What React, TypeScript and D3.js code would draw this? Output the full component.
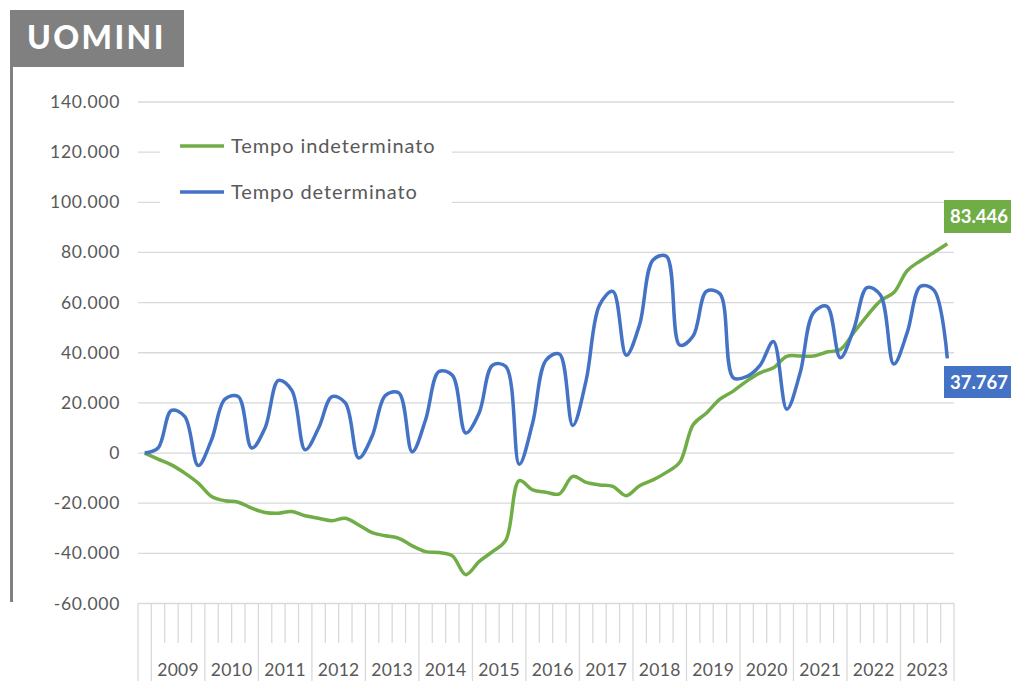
import * as d3 from "d3";

// quarterly change vs 2008 Q4, men
const years = [
  "2009", "2010", "2011", "2012", "2013", "2014", "2015", "2016",
  "2017", "2018", "2019", "2020", "2021", "2022", "2023",
];

// 2008Q4 + 15 years x 4 quarters (thousands)
const indeterminato = [
  0,
  -2.4, -4.7, -8, -12,
  -17.3, -19, -19.6, -22,
  -23.7, -24, -23.3, -25,
  -26, -27, -26, -28.7,
  -31.7, -33, -34, -37,
  -39.3, -39.7, -41, -48.5,
  -43.3, -39.3, -34.7, -11,
  -14.7, -15.6, -16.3, -9.3,
  -11.7, -12.7, -13.3, -17,
  -13, -10.7, -7.7, -3.7,
  11.3, 16, 21.5, 24.7,
  28.7, 32, 34, 38.6,
  38.7, 38.7, 40.3, 41.3,
  48, 54.7, 60.7, 64,
  72.7, 76.7, 80, 83.446,
].map((v) => v * 1000);

const determinato = [
  0,
  2, 17, 14.5, -5,
  5.3, 21.5, 22.5, 2,
  10, 29, 25, 1.3,
  10, 22.5, 20, -2,
  6.7, 23, 24, 0.5,
  13.3, 32.5, 31, 8,
  16, 35, 34.5, -4.5,
  12, 37, 39.5, 11,
  29, 59, 64.5, 39,
  51.3, 77, 78.5, 43,
  46.7, 64.5, 63.5, 30,
  30.5, 35, 44.5, 17.5,
  32, 56, 58.5, 38,
  49.3, 66, 63, 35.5,
  48, 66.5, 65, 37.767,
].map((v) => v * 1000);

const yTicks = [-60000, -40000, -20000, 0, 20000, 40000, 60000, 80000, 100000, 120000, 140000];

const GREEN = "#70ad47";
const BLUE = "#4472c4";
const GRID = "#d9d9d9";
const TXT = "#595959";
const FONT = "Lato, 'Open Sans', sans-serif";

const W = 1011;
const H = 681;

const x = d3
  .scaleBand<number>()
  .domain(d3.range(indeterminato.length))
  .range([138, 954])
  .padding(0);
const y = d3.scaleLinear().domain([-60000, 140000]).range([603.5, 102]);

// Italian style: thousands separated with a dot
const itFmt = (v: number) => {
  if (v === 0) return "0";
  return d3.format(",")(v).replace(/,/g, ".").replace("−", "-");
};

const line = d3
  .line<number>()
  .x((_, i) => (x(i) as number) + x.bandwidth() / 2)
  .y((d) => y(d))
  .curve(d3.curveCatmullRom.alpha(0.5));

export default function App() {
  const bw = x.bandwidth();
  const n = indeterminato.length;
  return (
    <svg width={W} height={H} style={{ position: "absolute", left: 0, top: 0 }}>
      <rect width={W} height={H} fill="#fff" />
      {/* title block */}
      <rect x={10} y={10} width={174} height={57} fill="#808080" />
      <text x={27} y={49} fill="#fff" fontFamily={FONT} fontWeight={900} fontSize={32} letterSpacing={2.4}>
        UOMINI
      </text>
      <rect x={10} y={67} width={3} height={535} fill="#808080" />

      {/* gridlines */}
      {yTicks.slice(1).map((t) => (
        <line key={t} x1={138} x2={954} y1={y(t)} y2={y(t)} stroke={GRID} strokeWidth={1.3} />
      ))}
      {yTicks.map((t) => (
        <text
          key={"l" + t}
          x={120}
          y={y(t) + 6}
          textAnchor="end"
          fontFamily={FONT}
          fontSize={17.5}
          letterSpacing={0.7}
          fill={TXT}
        >
          {itFmt(t)}
        </text>
      ))}

      {/* category axis */}
      <line x1={138} x2={954} y1={y(-60000)} y2={y(-60000)} stroke={GRID} strokeWidth={1.3} />
      {d3.range(n + 1).map((i) => {
        const xi = i < n ? (x(i) as number) : 954;
        const major = i === 0 || (i - 1) % 4 === 0;
        return (
          <line
            key={"t" + i}
            x1={xi}
            x2={xi}
            y1={y(-60000)}
            y2={major ? H : 643}
            stroke={GRID}
            strokeWidth={1.3}
          />
        );
      })}
      {years.map((yr, j) => {
        const cx = (x(1 + j * 4) as number) + bw * 2;
        return (
          <text key={yr} x={cx} y={676} textAnchor="middle" fontFamily={FONT} fontSize={17.5} letterSpacing={0.3} fill={TXT}>
            {yr}
          </text>
        );
      })}

      {/* legend */}
      <rect x={160} y={122} width={292} height={90} fill="#fff" />
      <line x1={180} x2={224} y1={146} y2={146} stroke={GREEN} strokeWidth={3.5} />
      <text x={231} y={153} fontFamily={FONT} fontSize={20} letterSpacing={0.9} fill={TXT}>
        Tempo indeterminato
      </text>
      <line x1={180} x2={224} y1={192} y2={192} stroke={BLUE} strokeWidth={3.5} />
      <text x={231} y={199} fontFamily={FONT} fontSize={20} letterSpacing={0.9} fill={TXT}>
        Tempo determinato
      </text>

      {/* series */}
      <path d={line(indeterminato) ?? ""} fill="none" stroke={GREEN} strokeWidth={3.5} strokeLinejoin="round" />
      <path d={line(determinato) ?? ""} fill="none" stroke={BLUE} strokeWidth={3.5} strokeLinejoin="round" />

      {/* end labels */}
      <rect x={944} y={200} width={67} height={33} fill={GREEN} />
      <text x={979} y={223} textAnchor="middle" fontFamily={FONT} fontWeight={700} fontSize={18.5} fill="#fff">
        {itFmt(indeterminato[n - 1])}
      </text>
      <rect x={944} y={366} width={67} height={32} fill={BLUE} />
      <text x={979} y={389} textAnchor="middle" fontFamily={FONT} fontWeight={700} fontSize={18.5} fill="#fff">
        {itFmt(Math.round(determinato[n - 1]))}
      </text>
    </svg>
  );
}
